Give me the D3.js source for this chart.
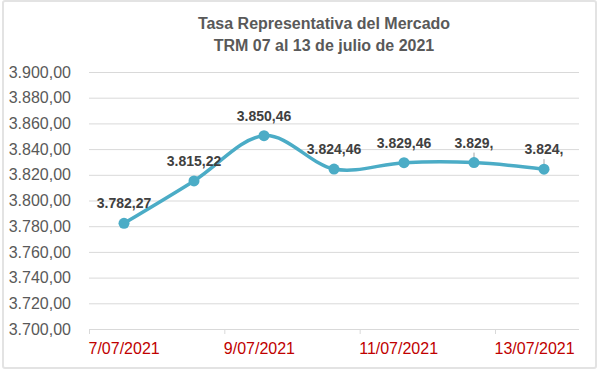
<!DOCTYPE html>
<html lang="es">
<head>
    <meta charset="UTF-8">
    <title>TRM 07 al 13 de julio de 2021</title>
    <style>
        body { margin: 0; background: #fff; }
        text { font-family: Arial, "Liberation Sans", sans-serif; }
        .line { fill: none; stroke: #4bacc6; stroke-width: 3.5; }
        .grid line { stroke: #d9d9d9; }
        .grid .domain { display: none; }
        .grid text { fill: #595959; font-size: 16px; }
        .xaxis .domain { display: none; }
        .xaxis line { stroke: #d9d9d9; }
        .xaxis text { fill: #c00000; font-size: 16px; }
    </style>
</head>
<body>
    <svg id="container" height="370" width="600">
        <rect x="3" y="1" width="593" height="367" rx="2" fill="none" stroke="#e3e3e3" stroke-width="2"></rect>
        <g id="title"></g>
        <g id="yAxis"></g>
        <g id="xAxis"></g>
        <g id="body"></g>
    </svg>
</body>
<script src="https://cdn.jsdelivr.net/npm/d3@7"></script>
<script>

let dates = ["7/07/2021", "8/07/2021", "9/07/2021", "10/07/2021", "11/07/2021", "12/07/2021", "13/07/2021"]
let values = [3782.27, 3815.22, 3850.46, 3824.46, 3829.46, 3829.5, 3824.4]
let labels = ["3.782,27", "3.815,22", "3.850,46", "3.824,46", "3.829,46", "3.829,", "3.824,"]
let tickLabels = ["7/07/2021", "9/07/2021", "11/07/2021", "13/07/2021"]
let yTicks = [3700, 3720, 3740, 3760, 3780, 3800, 3820, 3840, 3860, 3880, 3900]

let body = d3.select("#body")

let plotLeft = 89, plotRight = 579, plotTop = 72, plotBottom = 329

let es = d3.formatLocale({ decimal: ",", thousands: ".", grouping: [3], currency: ["", ""] })
let fmt = es.format(",.2f")

let yScale = d3.scaleLinear()
    .domain([3700, 3900])
    .range([plotBottom, plotTop])

let xScale = d3.scalePoint()
    .domain(dates)
    .range([plotLeft, plotRight])
    .padding(0.5)

// tick labels sit at the start of every second day slot
let xTickScale = d3.scalePoint()
    .domain(tickLabels)
    .range([plotLeft, 495])

d3.select("#yAxis")
    .attr("class", "grid")
    .attr("transform", "translate(" + plotLeft + ",0)")
    .call(d3.axisLeft(yScale)
        .tickValues(yTicks)
        .tickSize(-(plotRight - plotLeft))
        .tickPadding(18)
        .tickFormat(fmt))

d3.select("#xAxis")
    .attr("class", "xaxis")
    .attr("transform", "translate(0," + plotBottom + ")")
    .call(d3.axisBottom(xTickScale).tickSize(5).tickPadding(9))
    .selectAll("text")
    .attr("text-anchor", "start")
    .attr("x", -1)

let title = d3.select("#title")
    .append("text")
    .attr("text-anchor", "middle")
    .attr("fill", "#595959")
    .attr("font-size", "16px")
    .attr("font-weight", "bold")
title.append("tspan").attr("x", 324).attr("y", 29).text("Tasa Representativa del Mercado")
title.append("tspan").attr("x", 324).attr("y", 51).text("TRM 07 al 13 de julio de 2021")

let data = dates.map((d, i) => ({ date: d, value: values[i], label: labels[i] }))

let line = d3.line()
    .x(d => xScale(d.date))
    .y(d => yScale(d.value))
    .curve(d3.curveCardinal.tension(0))

// leader lines for the cut-off labels
body.selectAll(".leader")
    .data(data.filter(d => d.label.endsWith(",")))
    .enter().append("line")
    .attr("x1", d => xScale(d.date))
    .attr("x2", d => xScale(d.date))
    .attr("y1", d => yScale(d.value) - 10)
    .attr("y2", d => yScale(d.value) - 1)
    .attr("stroke", "#a6a6a6")
    .attr("stroke-width", 1)

body.append("path")
    .datum(data)
    .attr("class", "line")
    .attr("d", line)

body.selectAll("circle")
    .data(data)
    .enter().append("circle")
    .attr("cx", d => xScale(d.date))
    .attr("cy", d => yScale(d.value))
    .attr("r", 5.5)
    .attr("fill", "#4bacc6")

body.selectAll(".label")
    .data(data)
    .enter().append("text")
    .attr("x", d => xScale(d.date))
    .attr("y", d => yScale(d.value) - 15)
    .attr("text-anchor", "middle")
    .attr("fill", "#404040")
    .attr("font-size", "14px")
    .attr("font-weight", "bold")
    .text(d => d.label)

</script>
</html>
